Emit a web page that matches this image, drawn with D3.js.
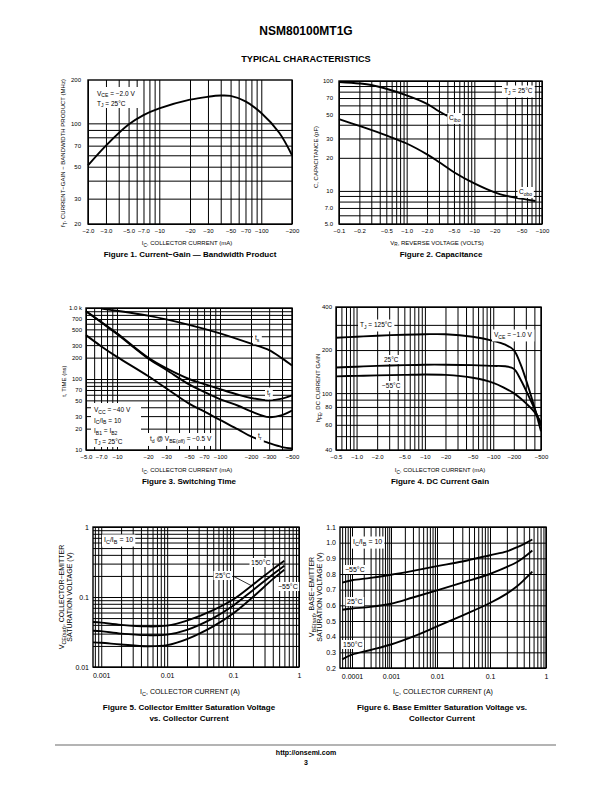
<!DOCTYPE html>
<html><head><meta charset="utf-8">
<script src="https://cdn.jsdelivr.net/npm/d3@7"></script>
<style>body{margin:0;background:#fff}svg{display:block}</style>
</head><body><svg id="c" width="612" height="792"></svg>
<script>
// ---------- DATA ----------
// Figure 1
const fig1Current=[2,3,5,7,10,20,30,40,50,70,100,150,200];
const fig1Ft=[51,70,98,114,127,146,153,156,155,142,118,86,60];
const fig1XTicks=[2,3,5,7,10,20,30,50,70,100,200];
const fig1XLabels=["−2.0","−3.0","−5.0","−7.0","−10","−20","−30","−50","−70","−100","−200"];
const fig1YTicks=[20,30,50,70,100,200];
const fig1YLabels=["20","30","50","70","100","200"];
// Figure 2
const fig2CiboV=[0.1,0.2,0.3,0.5,1,2,3,4];
const fig2Cibo=[98,95,92,85,74,62,53,48];
const fig2CoboV=[0.1,0.2,0.5,1,2,3,5,10,20,30,50,80];
const fig2Cobo=[45,39,32,27,21.5,18.3,14.8,11.7,9.7,9,8.5,8.1];
const fig2XTicks=[0.1,0.2,0.5,1,2,5,10,20,50,100];
const fig2XLabels=["−0.1","−0.2","−0.5","−1.0","−2.0","−5.0","−10","−20","−50","−100"];
const fig2YTicks=[5,7,10,20,30,50,70,100];
const fig2YLabels=["5.0","7.0","10","20","30","50","70","100"];
// Figure 3
const fig3TsI=[7,10,20,50,100,200,300,400,500];
const fig3Ts=[980,915,780,580,440,315,255,195,155];
const fig3I=[5,7,10,20,30,50,70,100,150,200,300,400,500];
const fig3Tf=[900,640,440,200,142,100,85,72,60,54,50,53,59];
const fig3Td=[900,630,430,195,135,84,66,52,42,35,29,31,36];
const fig3Tr=[415,290,205,110,74,45,35,26.5,19.5,15.5,12.5,11,10.5];
const fig3XTicks=[5,7,10,20,30,50,70,100,200,300,500];
const fig3XLabels=["−5.0","−7.0","−10","−20","−30","−50","−70","−100","−200","−300","−500"];
const fig3YTicks=[10,20,30,50,70,100,200,300,500,700,1000];
const fig3YLabels=["10","20","30","50","70","100","200","300","500","700","1.0 k"];
// Figure 4
const fig4I=[0.5,1,2,5,10,20,50,100,150,200,250,300,400,500];
const fig4H125=[244,248,252,256,258,258,248,232,218,200,160,125,80,54];
const fig4H25=[151,153,155,157,158,158,157,155,154,148,125,105,78,60];
const fig4Hm55=[131,132,133,134,135,134,128,118,108,100,92,85,74,62];
const fig4XTicks=[0.5,1,2,5,10,20,50,100,200,500];
const fig4XLabels=["−0.5","−1.0","−2.0","−5.0","−10","−20","−50","−100","−200","−500"];
const fig4YTicks=[40,60,80,100,200,400];
const fig4YLabels=["40","60","80","100","200","400"];
// Figure 5
const fig5I=[0.00075,0.001,0.002,0.005,0.01,0.02,0.05,0.1,0.2,0.4,0.6];
const fig5V150=[0.044,0.043,0.040,0.038,0.039,0.046,0.065,0.092,0.15,0.25,0.33];
const fig5V25=[0.033,0.0325,0.030,0.0285,0.029,0.034,0.050,0.075,0.125,0.21,0.28];
const fig5Vm55=[0.0225,0.0222,0.021,0.0198,0.0205,0.025,0.038,0.058,0.10,0.18,0.245];
const fig5XTicks=[0.001,0.01,0.1,1];
const fig5XLabels=["0.001","0.01","0.1","1"];
const fig5YTicks=[0.01,0.1,1];
const fig5YLabels=["0.01","0.1","1"];
// Figure 6
const fig6I=[0.00006,0.0001,0.0003,0.001,0.003,0.01,0.03,0.1,0.2,0.3,0.4,0.57];
const fig6Vm55=[0.745,0.76,0.775,0.795,0.82,0.85,0.88,0.92,0.945,0.97,0.99,1.02];
const fig6V25=[0.572,0.58,0.59,0.61,0.65,0.695,0.745,0.80,0.845,0.875,0.905,0.95];
const fig6V150=[0.255,0.285,0.315,0.35,0.40,0.465,0.535,0.615,0.675,0.72,0.76,0.815];
const fig6XTicks=[0.0001,0.001,0.01,0.1,1];
const fig6XLabels=["0.0001","0.001","0.01","0.1","1"];
const fig6YTicks=[0.2,0.3,0.4,0.5,0.6,0.7,0.8,0.9,1.0,1.1];
const fig6YLabels=["0.2","0.3","0.4","0.5","0.6","0.7","0.8","0.9","1.0","1.1"];

// ---------- HELPERS ----------
const FONT='"Liberation Sans", Arial, Helvetica, sans-serif';
const svg=d3.select("#c");

function logGrid(lo,hi){
  const out=[];
  for(let e=Math.floor(Math.log10(lo));e<=Math.ceil(Math.log10(hi));e++){
    for(let m=1;m<=9;m++){
      const v=+(m*Math.pow(10,e)).toPrecision(6);
      if(v>=lo*0.9999&&v<=hi*1.0001) out.push(v);
    }
  }
  return out;
}

function addText(g,x,y,parts,o={}){
  const size=o.size||6;
  const t=g.append("text").attr("x",x).attr("y",y).attr("font-size",size)
    .attr("font-family",FONT).attr("text-anchor",o.anchor||"start").attr("fill","#000");
  if(o.weight) t.attr("font-weight",o.weight);
  if(o.rotate) t.attr("transform",`rotate(-90,${x},${y})`);
  if(typeof parts==="string") parts=[[parts]];
  let shift=0;
  parts.forEach(([s,sub])=>{
    const target=sub?size*0.3:0;
    const ts=t.append("tspan").attr("dy",target-shift).text(s);
    if(sub) ts.attr("font-size",size*0.78);
    shift=target;
  });
  if(o.bg){
    const b=t.node().getBBox();
    const p=o.pad||1;
    g.insert("rect",()=>t.node()).attr("x",b.x-p).attr("y",b.y-p+0.5)
      .attr("width",b.width+2*p).attr("height",b.height+2*p-1).attr("fill","#fff");
  }
  return t;
}

function bgBox(g,x,y,w,h){ return g.append("rect").attr("x",x).attr("y",y).attr("width",w).attr("height",h).attr("fill","#fff"); }

function panel(c){
  const g=svg.append("g");
  const xs=c.xs, ys=c.ys, xv=c.xv||(d=>d), yv=c.yv||(d=>d);
  const W=c.x1-c.x0, H=c.y1-c.y0;
  const styleGrid=s=>{s.select(".domain").remove();s.selectAll("line").attr("stroke","#000").attr("stroke-width",1);};
  g.append("g").attr("transform",`translate(0,${c.y1})`)
    .call(d3.axisBottom(xs).tickValues(c.vGrid.map(xv)).tickSize(-H).tickFormat(""))
    .call(styleGrid);
  g.append("g").attr("transform",`translate(${c.x0},0)`)
    .call(d3.axisLeft(ys).tickValues(c.hGrid.map(yv)).tickSize(-W).tickFormat(""))
    .call(styleGrid);
  g.append("rect").attr("x",c.x0).attr("y",c.y0).attr("width",W).attr("height",H)
    .attr("fill","none").attr("stroke","#000").attr("stroke-width",1.4);
  // tick labels
  const styleLab=s=>{s.select(".domain").remove();s.selectAll("line").remove();
    s.attr("font-family",FONT).attr("font-size",c.tickSize||6);s.selectAll("text").attr("fill","#000");};
  g.append("g").attr("transform",`translate(0,${c.y1})`)
    .call(d3.axisBottom(xs).tickValues(c.xTicks.map(xv)).tickSize(0).tickPadding(c.xPad||5)
      .tickFormat((d,i)=>c.xLabels[i]))
    .call(styleLab);
  g.append("g").attr("transform",`translate(${c.x0},0)`)
    .call(d3.axisLeft(ys).tickValues(c.yTicks.map(yv)).tickSize(0).tickPadding(c.yPad||5)
      .tickFormat((d,i)=>c.yLabels[i]))
    .call(styleLab);
  // curves
  const line=d3.line().x(d=>xs(xv(d[0]))).y(d=>ys(yv(d[1]))).curve(d3.curveCatmullRom.alpha(0.5));
  c.series.forEach(([xa,ya])=>{
    g.append("path").datum(d3.zip(xa,ya)).attr("d",line).attr("fill","none")
      .attr("stroke","#000").attr("stroke-width",1.9).attr("stroke-linejoin","round");
  });
  return g;
}

// ---------- PAGE TITLES ----------
addText(svg,306,35,"NSM80100MT1G",{size:12,weight:"bold",anchor:"middle"});
addText(svg,306,61.5,"TYPICAL CHARACTERISTICS",{size:9.2,weight:"bold",anchor:"middle"});

// ---------- FIGURE 1 ----------
{
  const c={x0:88,x1:292,y0:80,y1:224};
  c.xs=d3.scaleLog().domain([2,200]).range([c.x0,c.x1]);
  c.ys=d3.scaleLog().domain([20,200]).range([c.y1,c.y0]);
  c.vGrid=logGrid(2,200); c.hGrid=logGrid(20,100);
  c.xTicks=fig1XTicks;c.xLabels=fig1XLabels;c.yTicks=fig1YTicks;c.yLabels=fig1YLabels;
  c.xPad=5;c.yPad=7;
  c.series=[[fig1Current,fig1Ft]];
  const g=panel(c);
  bgBox(g,93,87,47,21);
  addText(g,97,95.5,[["V"],["CE",1],[" = −2.0 V"]],{size:6.5});
  addText(g,97,105.5,[["T"],["J",1],[" = 25°C"]],{size:6.5});
  addText(svg,187,245,[["I"],["C",1],[", COLLECTOR CURRENT (mA)"]],{size:6,anchor:"middle"});
  addText(svg,65,153,[["f"],["T",1],[", CURRENT−GAIN − BANDWIDTH PRODUCT (MHz)"]],{size:6,anchor:"middle",rotate:true});
  addText(svg,190,257,"Figure 1. Current−Gain — Bandwidth Product",{size:8,weight:"bold",anchor:"middle"});
}

// ---------- FIGURE 2 ----------
{
  const c={x0:339,x1:542,y0:81,y1:224};
  c.xs=d3.scaleLog().domain([0.1,100]).range([c.x0,c.x1]);
  c.ys=d3.scaleLog().domain([5,100]).range([c.y1,c.y0]);
  c.vGrid=logGrid(0.1,100); c.hGrid=logGrid(5,100);
  c.xTicks=fig2XTicks;c.xLabels=fig2XLabels;c.yTicks=fig2YTicks;c.yLabels=fig2YLabels;
  c.xPad=5;c.yPad=6;
  c.series=[[fig2CiboV,fig2Cibo],[fig2CoboV,fig2Cobo]];
  const g=panel(c);
  addText(g,504,93,[["T"],["J",1],[" = 25°C"]],{size:6.5,bg:true,pad:2});
  addText(g,449,120,[["C"],["ibo",1]],{size:6.5,bg:true,pad:1.5});
  addText(g,519,194,[["C"],["obo",1]],{size:6.5,bg:true,pad:1.5});
  addText(svg,437,244.5,[["V"],["R",1],[", REVERSE VOLTAGE (VOLTS)"]],{size:6,anchor:"middle"});
  addText(svg,318,157,"C, CAPACITANCE (pF)",{size:6,anchor:"middle",rotate:true});
  addText(svg,441,257,"Figure 2. Capacitance",{size:8,weight:"bold",anchor:"middle"});
}

// ---------- FIGURE 3 ----------
{
  const c={x0:86,x1:292,y0:308,y1:450};
  c.xs=d3.scaleLog().domain([5,500]).range([c.x0,c.x1]);
  c.ys=d3.scaleLog().domain([10,1000]).range([c.y1,c.y0]);
  c.vGrid=logGrid(5,500); c.hGrid=logGrid(10,1000);
  c.xTicks=fig3XTicks;c.xLabels=fig3XLabels;c.yTicks=fig3YTicks;c.yLabels=fig3YLabels;
  c.xPad=5;c.yPad=4;
  c.series=[[fig3TsI,fig3Ts],[fig3I,fig3Tf],[fig3I,fig3Td],[fig3I,fig3Tr]];
  const g=panel(c);
  bgBox(g,91,403,50,44);
  addText(g,94,412,[["V"],["CC",1],[" = −40 V"]],{size:6.5});
  addText(g,94,422.5,[["I"],["C",1],["/I"],["B",1],[" = 10"]],{size:6.5});
  addText(g,94,433,[["I"],["B1",1],[" = I"],["B2",1]],{size:6.5});
  addText(g,94,443.5,[["T"],["J",1],[" = 25°C"]],{size:6.5});
  addText(g,150,441,[["t"],["d",1],[" @ V"],["BE(off)",1],[" = −0.5 V"]],{size:6.5,bg:true,pad:2.5});
  addText(g,255,340,[["t"],["s",1]],{size:6.5,bg:true,pad:2});
  addText(g,267,395,[["t"],["f",1]],{size:6.5,bg:true,pad:2});
  addText(g,258,438,[["t"],["r",1]],{size:6.5,bg:true,pad:2});
  addText(svg,187,472,[["I"],["C",1],[", COLLECTOR CURRENT (mA)"]],{size:6,anchor:"middle"});
  addText(svg,66,381,"t, TIME (ns)",{size:6,anchor:"middle",rotate:true});
  addText(svg,189,484,"Figure 3. Switching Time",{size:8,weight:"bold",anchor:"middle"});
}

// ---------- FIGURE 4 ----------
{
  const c={x0:336,x1:541,y0:307,y1:450};
  c.xs=d3.scaleLog().domain([0.5,500]).range([c.x0,c.x1]);
  c.ys=d3.scaleLog().domain([40,400]).range([c.y1,c.y0]);
  c.vGrid=logGrid(0.5,500); c.hGrid=logGrid(40,400);
  c.xTicks=fig4XTicks;c.xLabels=fig4XLabels;c.yTicks=fig4YTicks;c.yLabels=fig4YLabels;
  c.xPad=5;c.yPad=4;
  c.series=[[fig4I,fig4H125],[fig4I,fig4H25],[fig4I,fig4Hm55]];
  const g=panel(c);
  addText(g,360,327,[["T"],["J",1],[" = 125°C"]],{size:6.5,bg:true,pad:2});
  addText(g,494,337,[["V"],["CE",1],[" = −1.0 V"]],{size:6.5,bg:true,pad:2});
  addText(g,384,362,"25°C",{size:6.5,bg:true,pad:1.5});
  addText(g,382,388,"−55°C",{size:6.5,bg:true,pad:1.5});
  addText(svg,440,472,[["I"],["C",1],[", COLLECTOR CURRENT (mA)"]],{size:6,anchor:"middle"});
  addText(svg,320,388,[["h"],["FE",1],[", DC CURRENT GAIN"]],{size:6,anchor:"middle",rotate:true});
  addText(svg,440,484,"Figure 4. DC Current Gain",{size:8,weight:"bold",anchor:"middle"});
}

// ---------- FIGURE 5 ----------
{
  const c={x0:93,x1:299,y0:527,y1:667};
  c.xs=d3.scaleLog().domain([0.00075,1]).range([c.x0,c.x1]);
  c.ys=d3.scaleLog().domain([0.01,1]).range([c.y1,c.y0]);
  c.vGrid=logGrid(0.00075,1); c.hGrid=logGrid(0.01,1);
  c.xTicks=fig5XTicks;c.xLabels=fig5XLabels;c.yTicks=fig5YTicks;c.yLabels=fig5YLabels;
  c.xPad=6;c.yPad=4;c.tickSize=7;
  c.series=[[fig5I,fig5V150],[fig5I,fig5V25],[fig5I,fig5Vm55]];
  const g=panel(c);
  addText(g,104,542,[["I"],["C",1],["/I"],["B",1],[" = 10"]],{size:7,bg:true,pad:2});
  addText(g,251,565,"150°C",{size:7,bg:true,pad:1.5});
  g.append("line").attr("x1",233).attr("y1",576).attr("x2",252).attr("y2",586).attr("stroke","#000").attr("stroke-width",0.8);
  addText(g,215,578,"25°C",{size:7,bg:true,pad:1.5});
  addText(g,278,589,"−55°C",{size:7,bg:true,pad:1.5});
  addText(svg,190,694,[["I"],["C",1],[", COLLECTOR CURRENT (A)"]],{size:7,anchor:"middle"});
  addText(svg,63.5,597,[["V"],["CE(sat)",1],[", COLLECTOR−EMITTER"]],{size:7,anchor:"middle",rotate:true});
  addText(svg,71.5,597,"SATURATION VOLTAGE (V)",{size:7,anchor:"middle",rotate:true});
  addText(svg,189,710,"Figure 5. Collector Emitter Saturation Voltage",{size:8,weight:"bold",anchor:"middle"});
  addText(svg,189,721,"vs. Collector Current",{size:8,weight:"bold",anchor:"middle"});
}

// ---------- FIGURE 6 ----------
{
  const c={x0:340,x1:546,y0:527,y1:668};
  // log axis drawn from the printed decade positions
  c.xs=d3.scaleLinear().domain([-4.27,-4,-3,-2,-1,0]).range([340,352,391,437,490,546]);
  c.xv=d=>Math.log10(d);
  c.ys=d3.scaleLinear().domain([0.2,1.1]).range([c.y1,c.y0]);
  c.vGrid=logGrid(0.00006,1); c.hGrid=fig6YTicks;
  c.xTicks=fig6XTicks;c.xLabels=fig6XLabels;c.yTicks=fig6YTicks;c.yLabels=fig6YLabels;
  c.xPad=6;c.yPad=4;c.tickSize=7;
  c.series=[[fig6I,fig6Vm55],[fig6I,fig6V25],[fig6I,fig6V150]];
  const g=panel(c);
  addText(g,353,544,[["I"],["C",1],["/I"],["B",1],[" = 10"]],{size:7,bg:true,pad:2});
  addText(g,345,572,"−55°C",{size:7,bg:true,pad:1.5});
  addText(g,347,604,"25°C",{size:7,bg:true,pad:1.5});
  addText(g,343,647,"150°C",{size:7,bg:true,pad:1.5});
  addText(svg,443,694,[["I"],["C",1],[", COLLECTOR CURRENT (A)"]],{size:7,anchor:"middle"});
  addText(svg,313.5,597,[["V"],["BE(sat)",1],[", BASE−EMITTER"]],{size:7,anchor:"middle",rotate:true});
  addText(svg,321.5,597,"SATURATION VOLTAGE (V)",{size:7,anchor:"middle",rotate:true});
  addText(svg,442,710,"Figure 6. Base Emitter Saturation Voltage vs.",{size:8,weight:"bold",anchor:"middle"});
  addText(svg,442,721,"Collector Current",{size:8,weight:"bold",anchor:"middle"});
}

// ---------- FOOTER ----------
svg.append("line").attr("x1",55).attr("x2",556).attr("y1",745).attr("y2",745).attr("stroke","#b4b4b4").attr("stroke-width",2);
addText(svg,306,755,"http://onsemi.com",{size:7,weight:"bold",anchor:"middle"});
addText(svg,306,765,"3",{size:7,weight:"bold",anchor:"middle"});
</script>
</body></html>
